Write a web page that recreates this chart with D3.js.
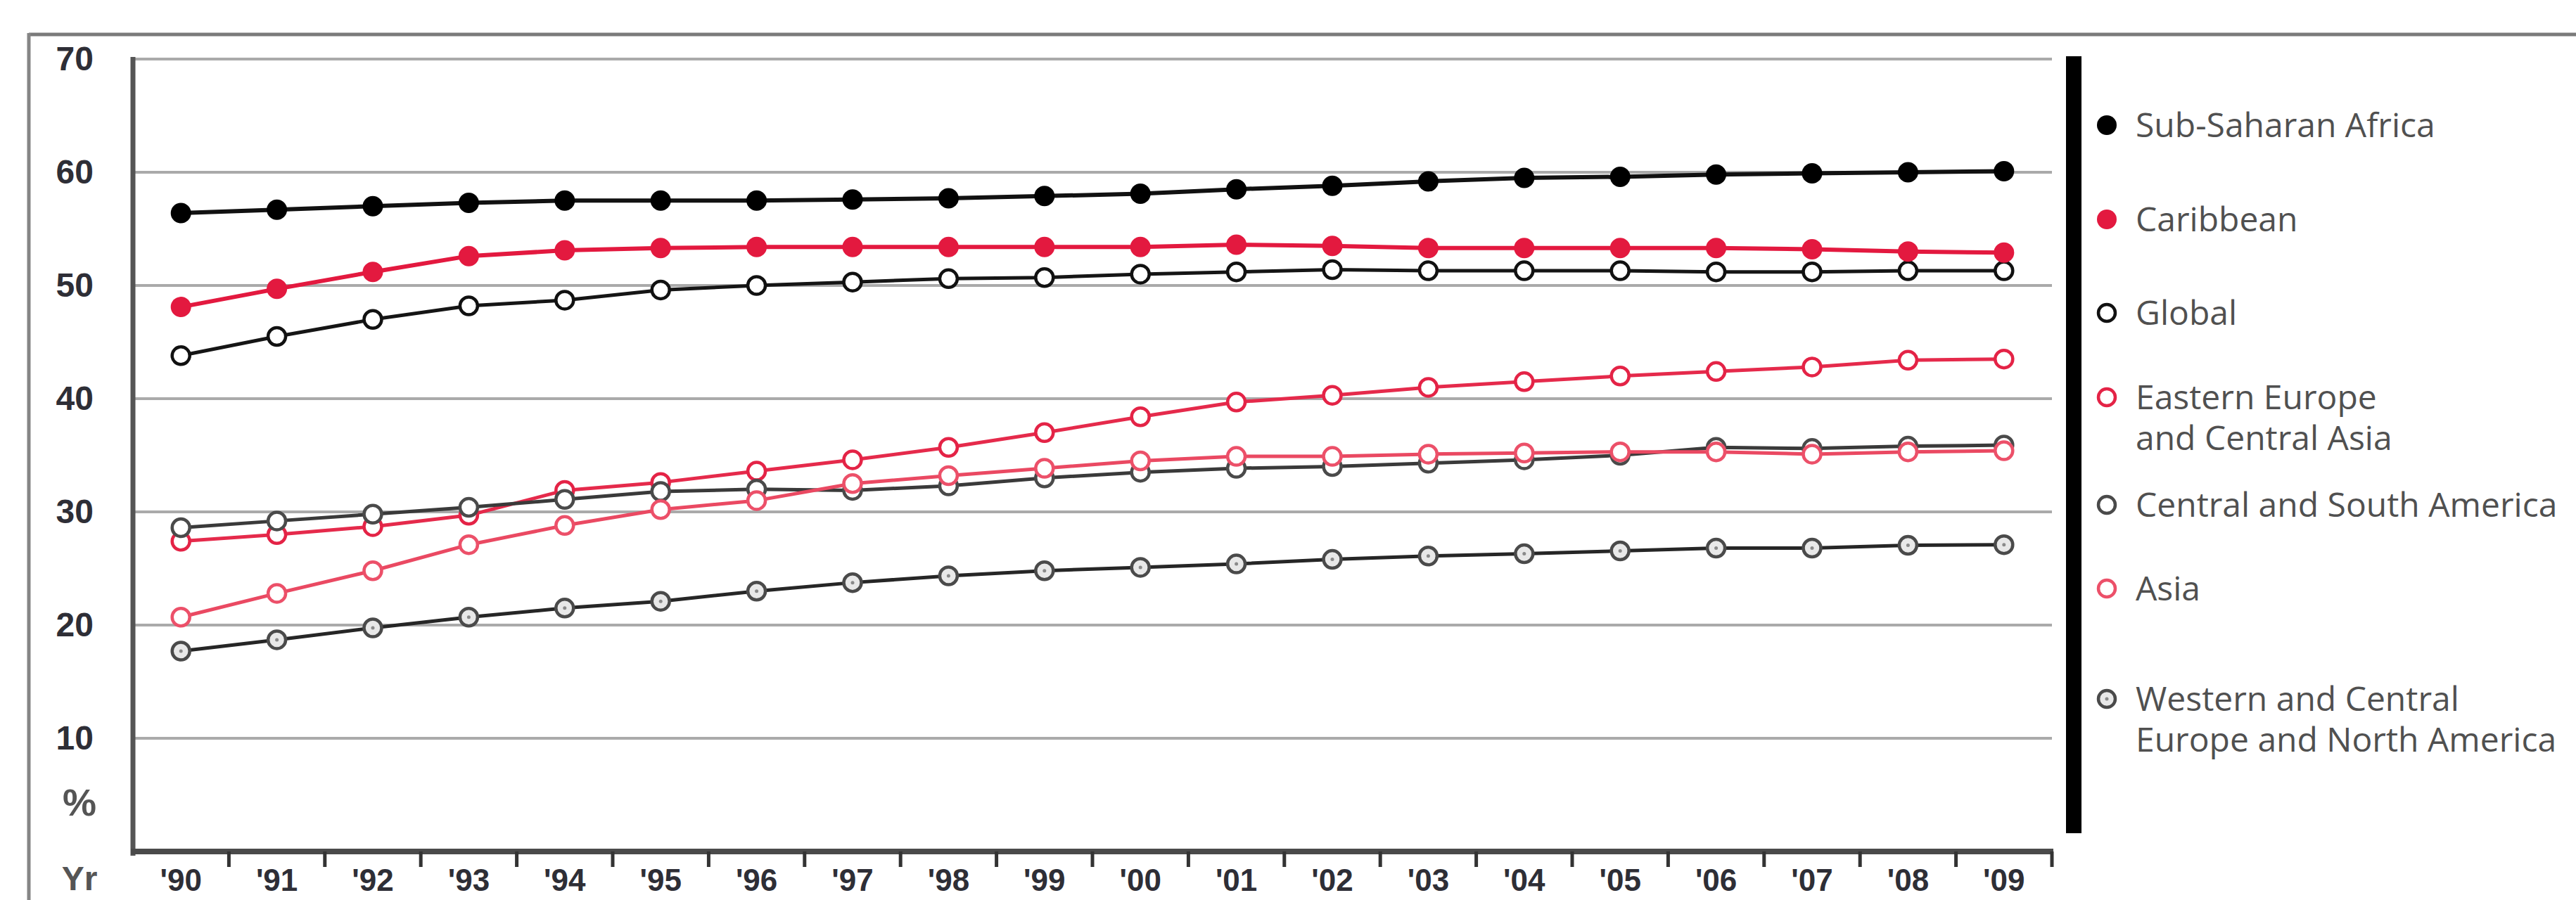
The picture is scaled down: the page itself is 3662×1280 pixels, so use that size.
<!DOCTYPE html>
<html>
<head>
<meta charset="utf-8">
<script src="https://cdn.jsdelivr.net/npm/d3@7"></script>
<style>
  html, body { margin: 0; padding: 0; background: #fff; }
  svg { display: block; }
</style>
</head>
<body>
<svg id="chart" width="3662" height="1280"></svg>
<script>
// Share of women among adults living with HIV, by region, 1990-2009 (%)
const years = ["'90","'91","'92","'93","'94","'95","'96","'97","'98","'99",
               "'00","'01","'02","'03","'04","'05","'06","'07","'08","'09"];
const yTicks = [10, 20, 30, 40, 50, 60, 70];

const subSaharanAfrica = [56.4, 56.7, 57.0, 57.3, 57.5, 57.5, 57.5, 57.6, 57.7, 57.9,
                          58.1, 58.5, 58.8, 59.2, 59.5, 59.6, 59.8, 59.9, 60.0, 60.1];
const caribbean        = [48.1, 49.7, 51.2, 52.6, 53.1, 53.3, 53.4, 53.4, 53.4, 53.4,
                          53.4, 53.6, 53.5, 53.3, 53.3, 53.3, 53.3, 53.2, 53.0, 52.9];
const globalShare      = [43.8, 45.5, 47.0, 48.2, 48.7, 49.6, 50.0, 50.3, 50.6, 50.7,
                          51.0, 51.2, 51.4, 51.3, 51.3, 51.3, 51.2, 51.2, 51.3, 51.3];
const easternEurope    = [27.4, 28.0, 28.7, 29.7, 31.9, 32.6, 33.6, 34.6, 35.7, 37.0,
                          38.4, 39.7, 40.3, 41.0, 41.5, 42.0, 42.4, 42.8, 43.4, 43.5];
const centralSouthAm   = [28.6, 29.2, 29.8, 30.4, 31.1, 31.8, 32.0, 31.9, 32.3, 33.0,
                          33.5, 33.85, 34.0, 34.3, 34.6, 35.0, 35.7, 35.6, 35.8, 35.9];
const asia             = [20.7, 22.8, 24.8, 27.1, 28.8, 30.2, 31.0, 32.5, 33.2, 33.85,
                          34.5, 34.9, 34.9, 35.1, 35.2, 35.3, 35.3, 35.1, 35.3, 35.4];
const westernEuropeNA  = [17.7, 18.7, 19.75, 20.7, 21.5, 22.1, 23.0, 23.75, 24.35, 24.8,
                          25.1, 25.4, 25.8, 26.1, 26.3, 26.55, 26.8, 26.8, 27.05, 27.1];

const seriesNames = ["Sub-Saharan Africa", "Caribbean", "Global",
                     "Eastern Europe\nand Central Asia", "Central and South America",
                     "Asia", "Western and Central\nEurope and North America"];

// marker / line styling per region
const styles = {
  "Sub-Saharan Africa":        { line: "#111111", stroke: "#000000", fill: "#000000", width: 6, dot: false },
  "Caribbean":                 { line: "#e3193f", stroke: "#e3193f", fill: "#e3193f", width: 6, dot: false },
  "Global":                    { line: "#151515", stroke: "#111111", fill: "#ffffff", width: 5, dot: false },
  "Eastern Europe\nand Central Asia": { line: "#e52a4b", stroke: "#e42346", fill: "#ffffff", width: 5, dot: false },
  "Central and South America": { line: "#3a3a3a", stroke: "#4a4a4a", fill: "#ffffff", width: 5, dot: false },
  "Asia":                      { line: "#ea4962", stroke: "#ec5069", fill: "#ffffff", width: 5, dot: false },
  "Western and Central\nEurope and North America": { line: "#262626", stroke: "#4a4a4a", fill: "#e8e8e8", width: 5, dot: true }
};

const seriesValues = [subSaharanAfrica, caribbean, globalShare, easternEurope,
                      centralSouthAm, asia, westernEuropeNA];
const series = seriesNames.map((name, i) => ({
  name, style: styles[name],
  points: years.map((yr, j) => ({ yr, v: seriesValues[i][j] }))
}));

const svg = d3.select("#chart");

// outer frame (top and left edges)
svg.append("line").attr("x1", 41).attr("x2", 3662).attr("y1", 49).attr("y2", 49)
   .attr("stroke", "#7a7a7a").attr("stroke-width", 5);
svg.append("line").attr("x1", 41).attr("x2", 41).attr("y1", 47).attr("y2", 1280)
   .attr("stroke", "#858585").attr("stroke-width", 5);

const plotLeft = 189, plotRight = 2917, plotTop = 84, plotBottom = 1211;

const x = d3.scaleBand().domain(years).range([plotLeft, plotRight]).padding(0);
const xc = d => x(d) + x.bandwidth() / 2;
const y = d3.scaleLinear().domain([0, 70]).range([plotBottom, plotTop]);

// horizontal gridlines
svg.append("g").selectAll("line").data(yTicks).join("line")
  .attr("x1", plotLeft).attr("x2", plotRight)
  .attr("y1", d => y(d)).attr("y2", d => y(d))
  .attr("stroke", "#aaaaaa").attr("stroke-width", 4);

// y axis labels
const yAxis = svg.append("g").attr("transform", `translate(${plotLeft},0)`)
  .call(d3.axisLeft(y).tickValues(yTicks).tickSize(0).tickPadding(56));
yAxis.select(".domain").remove();
yAxis.selectAll("text")
  .attr("font-family", "'Liberation Sans', Arial, sans-serif")
  .attr("font-weight", "bold").attr("font-size", 48).attr("fill", "#2e2e36");

// unit labels
svg.append("text").attr("x", 113).attr("y", 1160).attr("text-anchor", "middle")
  .attr("font-family", "'Liberation Sans', Arial, sans-serif").attr("font-weight", "bold")
  .attr("font-size", 54).attr("fill", "#555").text("%");
svg.append("text").attr("x", 113).attr("y", 1266).attr("text-anchor", "middle")
  .attr("font-family", "'Liberation Sans', Arial, sans-serif").attr("font-weight", "bold")
  .attr("font-size", 48).attr("fill", "#555").text("Yr");

// left axis line
svg.append("line").attr("x1", plotLeft).attr("x2", plotLeft)
  .attr("y1", plotTop - 3).attr("y2", plotBottom + 6)
  .attr("stroke", "#555").attr("stroke-width", 7);

// x axis: baseline, boundary ticks, year labels
svg.append("line").attr("x1", plotLeft - 3).attr("x2", plotRight + 2)
  .attr("y1", plotBottom).attr("y2", plotBottom)
  .attr("stroke", "#4a4a4a").attr("stroke-width", 8);

const boundary = d3.range(1, years.length + 1);
svg.append("g").selectAll("line").data(boundary).join("line")
  .attr("x1", i => plotLeft + i * x.bandwidth()).attr("x2", i => plotLeft + i * x.bandwidth())
  .attr("y1", plotBottom).attr("y2", plotBottom + 22)
  .attr("stroke", "#333").attr("stroke-width", 5);

const xAxis = svg.append("g").attr("transform", `translate(0,${plotBottom})`)
  .call(d3.axisBottom(x).tickSize(0).tickPadding(0));
xAxis.select(".domain").remove();
xAxis.selectAll("text")
  .attr("dy", null).attr("y", 56)
  .attr("font-family", "'Liberation Sans', Arial, sans-serif")
  .attr("font-weight", "bold").attr("font-size", 44).attr("fill", "#2e2e36");

// lines and markers; drawn bottom-up so later regions sit on top
const drawOrder = [6, 3, 4, 5, 2, 1, 0];
const lineGen = d3.line().x(d => xc(d.yr)).y(d => y(d.v));
const gData = svg.append("g");
drawOrder.forEach(i => {
  const s = series[i];
  const g = gData.append("g");
  g.append("path").datum(s.points).attr("d", lineGen)
    .attr("fill", "none").attr("stroke", s.style.line)
    .attr("stroke-width", s.style.width).attr("stroke-linejoin", "round");
  const filled = s.style.fill !== "#ffffff" && !s.style.dot;
  g.selectAll("circle.m").data(s.points).join("circle").attr("class", "m")
    .attr("cx", d => xc(d.yr)).attr("cy", d => y(d.v))
    .attr("r", filled ? 14.5 : 12.5)
    .attr("fill", s.style.fill)
    .attr("stroke", s.style.stroke).attr("stroke-width", filled ? 0 : 4.5);
  if (s.style.dot) {
    g.selectAll("circle.d").data(s.points).join("circle").attr("class", "d")
      .attr("cx", d => xc(d.yr)).attr("cy", d => y(d.v)).attr("r", 2.5).attr("fill", "#8a8a8a");
  }
});

// legend divider bar
svg.append("rect").attr("x", 2937).attr("y", 80).attr("width", 22).attr("height", 1105)
  .attr("fill", "#000");

// legend
const legendY = [178, 312, 445, 565, 718, 837, 994];
const legend = svg.append("g");
series.forEach((s, i) => {
  const cy = legendY[i];
  const filled = s.style.fill !== "#ffffff" && !s.style.dot;
  legend.append("circle").attr("cx", 2995).attr("cy", cy)
    .attr("r", filled ? 14 : 12)
    .attr("fill", s.style.fill).attr("stroke", s.style.stroke)
    .attr("stroke-width", filled ? 0 : 4.5);
  if (s.style.dot) {
    legend.append("circle").attr("cx", 2995).attr("cy", cy).attr("r", 2.5).attr("fill", "#8a8a8a");
  }
  const t = legend.append("text").attr("x", 3036).attr("y", cy + 17)
    .attr("font-family", "'Open Sans', Lato, sans-serif").attr("font-weight", 400)
    .attr("font-size", 48).attr("fill", "#505050");
  s.name.split("\n").forEach((ln, k) => {
    t.append("tspan").attr("x", 3036).attr("dy", k === 0 ? 0 : 58).text(ln);
  });
});
</script>
</body>
</html>
